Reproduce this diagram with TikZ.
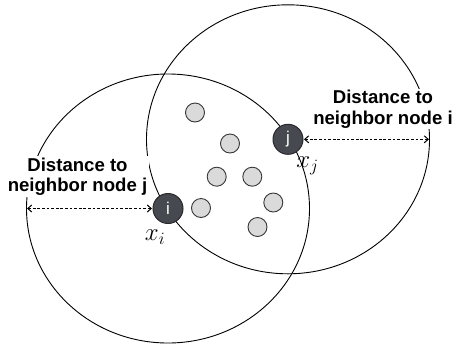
\documentclass[tikz,border=0pt]{standalone}
\usepackage{fontspec}
\setmainfont{Liberation Sans}
\usetikzlibrary{shapes.geometric,arrows.meta}
\definecolor{darknode}{RGB}{70,74,80}
\definecolor{darkedge}{RGB}{40,40,42}
\definecolor{lightnode}{RGB}{218,218,218}
\definecolor{lightedge}{RGB}{55,55,58}
\tikzset{
  rangeell/.style={ellipse, draw=black, line width=0.9pt, minimum width=283pt, minimum height=269pt, inner sep=0pt, outer sep=0pt},
  distlabel/.style={fill=white, align=center, inner sep=1.5pt, font=\fontsize{18.6}{20.5}\selectfont\bfseries},
  mainnode/.style={circle, fill=darknode, draw=darkedge, line width=1pt, minimum size=30pt, inner sep=0pt, text=white, font=\fontsize{17}{17}\selectfont},
  othernode/.style={circle, fill=lightnode, draw=lightedge, line width=0.9pt, minimum size=19pt, inner sep=0pt},
  distarrow/.style={line width=1pt, dash pattern=on 2.8pt off 1.8pt, {Straight Barb[length=4pt,width=7pt]}-{Straight Barb[length=4pt,width=7pt]}, shorten <=0.5pt, shorten >=0.5pt},
  mathlabel/.style={inner sep=0pt, font=\fontsize{26}{30}\selectfont}
}
\begin{document}
\begin{tikzpicture}[x=1pt,y=-1pt]
\useasboundingbox (0,0) rectangle (452,349);
\coordinate (pi) at (168,208.5);
\coordinate (pj) at (288,139.3);
\node[rangeell] (Ci) at (pi) {};
\node[rangeell] (Cj) at (pj) {};
\node[distlabel] (Lj) at (77.5,176.5) {Distance to\\neighbor node j};
\node[distlabel] (Li) at (383,109) {Distance to\\neighbor node i};
\node[othernode] (n1) at (195,112.5) {};
\node[othernode] (n2) at (230,143.5) {};
\node[othernode] (n3) at (216.7,176.7) {};
\node[othernode] (n4) at (252.3,176.7) {};
\node[othernode] (n5) at (201,208) {};
\node[othernode] (n6) at (273.3,202.5) {};
\node[othernode] (n7) at (257.5,227) {};
\node[mainnode] (i) at (pi) {i};
\node[mainnode] (j) at (pj) {j};
\node[mathlabel] (xi) at (155,237) {$x_i$};
\node[mathlabel] (xj) at (307.5,166) {$x_j$};
\draw[distarrow] (Ci.west) -- (i);
\draw[distarrow] (j) -- (Cj.east);
\end{tikzpicture}
\end{document}
